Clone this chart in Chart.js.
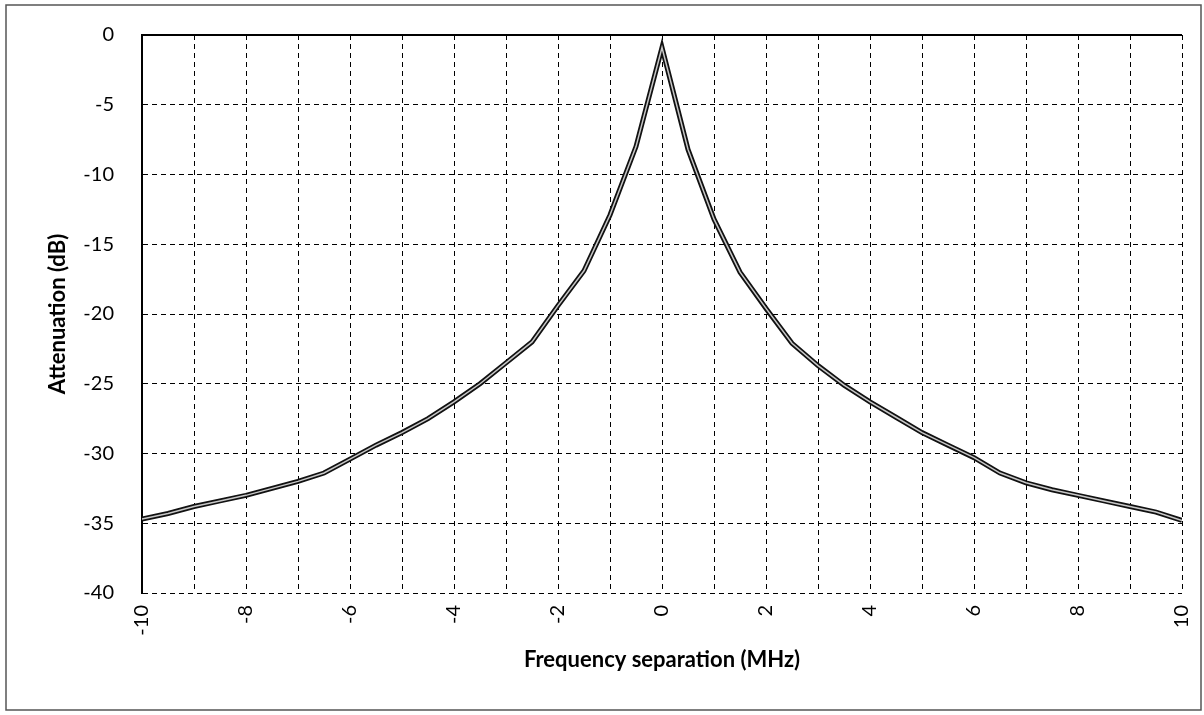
<!DOCTYPE html>
<html>
<head>
<meta charset="utf-8">
<script src="https://cdn.jsdelivr.net/npm/chart.js@4.4.1/dist/chart.umd.min.js"></script>
<style>
  html, body { margin: 0; padding: 0; background: #fff; }
  #wrap { width: 1204px; height: 715px; position: relative; }
</style>
</head>
<body>
<div id="wrap"><canvas id="chart" width="1204" height="715"></canvas></div>
<script>
// frequency separation (MHz) and attenuation (dB)
const freqs = [-10, -9.5, -9, -8.5, -8, -7.5, -7, -6.5, -6, -5.5, -5, -4.5, -4, -3.5, -3, -2.5, -2, -1.5, -1, -0.5,
  0, 0.5, 1, 1.5, 2, 2.5, 3, 3.5, 4, 4.5, 5, 5.5, 6, 6.5, 7, 7.5, 8, 8.5, 9, 9.5, 10];
const attenuation = [-34.7, -34.3, -33.8, -33.4, -33.0, -32.5, -32.0, -31.4, -30.4, -29.4, -28.5, -27.5, -26.3, -25.0, -23.5, -22.0, -19.4, -16.9, -12.9, -8.0,
  -0.9, -8.2, -13.2, -17.0, -19.6, -22.1, -23.7, -25.1, -26.3, -27.4, -28.5, -29.4, -30.3, -31.4, -32.1, -32.6, -33.0, -33.4, -33.8, -34.2, -34.8];
const xLabels = [-10, -8, -6, -4, -2, 0, 2, 4, 6, 8, 10];
const yTicks = [0, -5, -10, -15, -20, -25, -30, -35, -40];

const points = freqs.map((f, i) => ({ x: f, y: attenuation[i] }));
const FONT = "Lato, 'Open Sans', sans-serif";

// outer frame and solid top edge of the plot
const framePlugin = {
  id: "frame",
  beforeDraw(chart) {
    const ctx = chart.ctx;
    ctx.save();
    ctx.fillStyle = "#fff";
    ctx.fillRect(0, 0, chart.width, chart.height);
    ctx.strokeStyle = "#555";
    ctx.lineWidth = 1.5;
    ctx.strokeRect(6, 5, chart.width - 9, chart.height - 10);
    ctx.restore();
  },
  afterDraw(chart) {
    const { ctx, chartArea } = chart;
    ctx.save();
    ctx.strokeStyle = "#000";
    ctx.lineWidth = 2;
    ctx.beginPath();
    ctx.moveTo(chartArea.left, chartArea.top);
    ctx.lineTo(chartArea.right, chartArea.top);
    ctx.stroke();
    ctx.restore();
  }
};

new Chart(document.getElementById("chart"), {
  type: "line",
  data: {
    datasets: [
      {
        data: points,
        borderColor: "#c8c8c8",
        borderWidth: 1.5,
        pointRadius: 0,
        tension: 0,
        order: 0
      },
      {
        data: points,
        borderColor: "#111",
        borderWidth: 5,
        pointRadius: 0,
        tension: 0,
        order: 1
      }
    ]
  },
  options: {
    responsive: false,
    animation: false,
    layout: { padding: { left: 10, right: 22, top: 35, bottom: 32 } },
    plugins: { legend: { display: false }, tooltip: { enabled: false } },
    scales: {
      x: {
        type: "linear",
        min: -10,
        max: 10,
        afterFit: (s) => { s.height = 90; s.paddingLeft = 0; s.paddingRight = 0; },
        afterBuildTicks: (s) => { s.ticks = freqs.filter((f) => Number.isInteger(f)).map((v) => ({ value: v })); },
        ticks: {
          minRotation: 90,
          maxRotation: 90,
          autoSkip: false,
          padding: 12,
          color: "#000",
          font: { family: FONT, size: 20 },
          callback: (v) => (xLabels.includes(v) ? String(v) : "")
        },
        grid: { color: "#000", lineWidth: 1, drawTicks: false },
        border: { display: false, dash: [5, 4] },
        title: {
          display: true,
          text: "Frequency separation (MHz)",
          color: "#000",
          font: { family: FONT, size: 22, weight: "bold" },
          padding: { top: 0, bottom: 10 }
        }
      },
      y: {
        min: -40,
        max: 0,
        afterFit: (s) => { s.width = 132; s.paddingTop = 0; s.paddingBottom = 0; },
        afterBuildTicks: (s) => { s.ticks = yTicks.map((v) => ({ value: v })); },
        ticks: {
          padding: 28,
          color: "#000",
          font: { family: FONT, size: 20 }
        },
        grid: { color: "#000", lineWidth: 1, drawTicks: false },
        border: { display: true, color: "#000", width: 2, dash: [5, 4] },
        title: {
          display: true,
          text: "Attenuation (dB)",
          color: "#000",
          font: { family: FONT, size: 22, weight: "bold" },
          padding: { top: 35, bottom: 0 }
        }
      }
    }
  },
  plugins: [framePlugin]
});
</script>
</body>
</html>
